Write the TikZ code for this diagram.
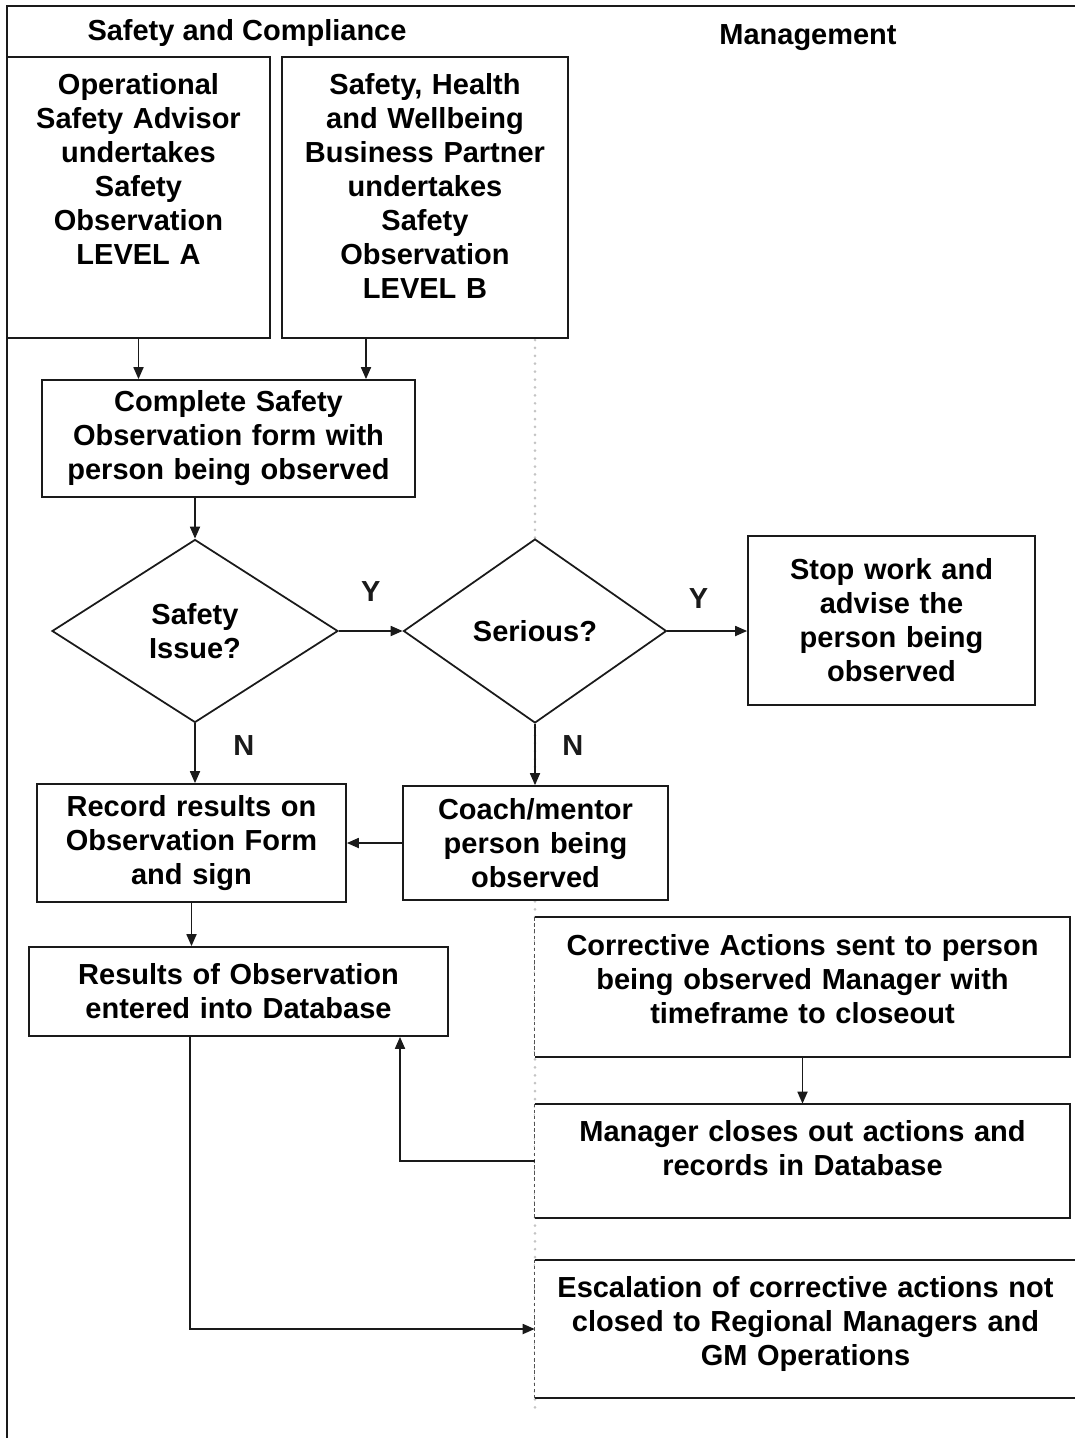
\documentclass[tikz,border=0pt]{standalone}
\usepackage{fontspec}
\setmainfont{Liberation Sans}
\usetikzlibrary{arrows.meta,positioning,shapes.geometric}
\definecolor{ink}{HTML}{1A1A1A}
\definecolor{lanegrey}{HTML}{C4C4C4}

\begin{document}
\begin{tikzpicture}[x=0.02cm,y=-0.02cm,
    font=\fontsize{16.5}{19.35}\selectfont\bfseries,
    box/.style={draw=ink,fill=white,line width=1pt,align=center,inner sep=0pt},
    hang/.style={fill=white,align=center,inner sep=0pt,text height=0.75cm},
    dec/.style={diamond,draw=ink,fill=white,line width=1pt,align=center,inner sep=0pt},
    lbl/.style={inner sep=0pt,text=ink},
    arr/.style={-{Triangle[length=2.4mm,width=2mm]},ink,line width=1pt},
    rim/.style={ink,line width=1pt},
    lane/.style={lanegrey,line width=1.7pt,line cap=round,dash pattern=on 0pt off 4.5pt},
    laneedge/.style={ink!75,line width=0.6pt,dash pattern=on 2pt off 1.5pt}]
  \useasboundingbox (0,0) rectangle (1075,1438);
  % swimlane divider and frame
  \draw[lane] (535,340) -- (535,1410);
  \draw[rim] (7,1438) -- (7,6) -- (1075,6);
  \node (hdrSC)   at (247,33) {Safety and Compliance};
  \node (hdrMgmt) at (808,38) {Management};
  % safety and compliance lane
  \node[box,hang,text width=5.26cm,text depth=4.87cm] (obsA) at (138.5,197.5)
    {Operational\\Safety Advisor\\undertakes\\Safety\\Observation\\LEVEL A};
  \node[box,hang,text width=5.72cm,text depth=4.87cm] (obsB) at (425,197.5)
    {Safety, Health\\and Wellbeing\\Business Partner\\undertakes\\Safety\\Observation\\LEVEL B};
  \node[box,text width=7.46cm,minimum height=2.34cm] (complete) at (228.5,438.5)
    {Complete Safety\\Observation form with\\person being observed};
  \node[dec,minimum width=5.72cm,minimum height=3.66cm] (issue) at (195,631) {Safety\\Issue?};
  \node[dec,minimum width=5.26cm,minimum height=3.68cm] (serious) at (535,631) {Serious?};
  \node[box,text width=5.74cm,minimum height=3.38cm] (stop) at (891.5,620.5)
    {Stop work and\\advise the\\person being\\observed};
  \node[box,text width=6.18cm,minimum height=2.36cm] (record) at (191.5,843)
    {Record results on\\Observation Form\\and sign};
  \node[box,text width=5.3cm,minimum height=2.28cm] (coach) at (535.5,843)
    {Coach/mentor\\person being\\observed};
  \node[box,text width=8.38cm,minimum height=1.78cm] (results) at (238.5,991.5)
    {Results of Observation\\entered into Database};
  % management lane
  \node[hang,text width=10.7cm,text depth=2.03cm] (corrective) at (802.5,987)
    {Corrective Actions sent to person\\being observed Manager with\\timeframe to closeout};
  \node[hang,text width=10.7cm,text depth=1.53cm] (closeout) at (802.5,1161)
    {Manager closes out actions and\\records in Database};
  \node[hang,text width=10.82cm,text depth=2.01cm] (escalate) at (805.5,1329)
    {Escalation of corrective actions not\\closed to Regional Managers and\\GM Operations};
  \foreach \n in {corrective,closeout,escalate}{
    \draw[rim] (\n.north west) -- (\n.north east) -- (\n.south east) -- (\n.south west);
    \draw[laneedge] (\n.north west) -- (\n.south west);
  }
  % connectors
  \coordinate (bDrop)   at (366,0);
  \coordinate (backUp)  at (400,0);
  \coordinate (escDrop) at (190,0);
  \draw[arr] (obsA.south) -- (obsA.south |- complete.north);
  \draw[arr] (bDrop |- obsB.south) -- (bDrop |- complete.north);
  \draw[arr] (issue.north |- complete.south) -- (issue.north);
  \draw[arr] (issue.east) -- node[lbl,above=0.57cm] {Y} (serious.west);
  \draw[arr] (serious.east) -- node[lbl,above=0.43cm,pos=0.39] {Y} (stop.west |- serious.east);
  \draw[arr] (issue.south) -- node[lbl,right=0.75cm,pos=0.375] {N} (issue.south |- record.north);
  \draw[arr] (serious.south) -- node[lbl,right=0.53cm,pos=0.35] {N} (serious.south |- coach.north);
  \draw[arr] (coach.west) -- (coach.west -| record.east);
  \draw[arr] (record.south) -- (record.south |- results.north);
  \draw[arr] (corrective.south) -- (closeout.north);
  \draw[arr] (closeout.west) -| (backUp |- results.south);
  \draw[arr] (escDrop |- results.south) |- (escalate.west);
\end{tikzpicture}
\end{document}
